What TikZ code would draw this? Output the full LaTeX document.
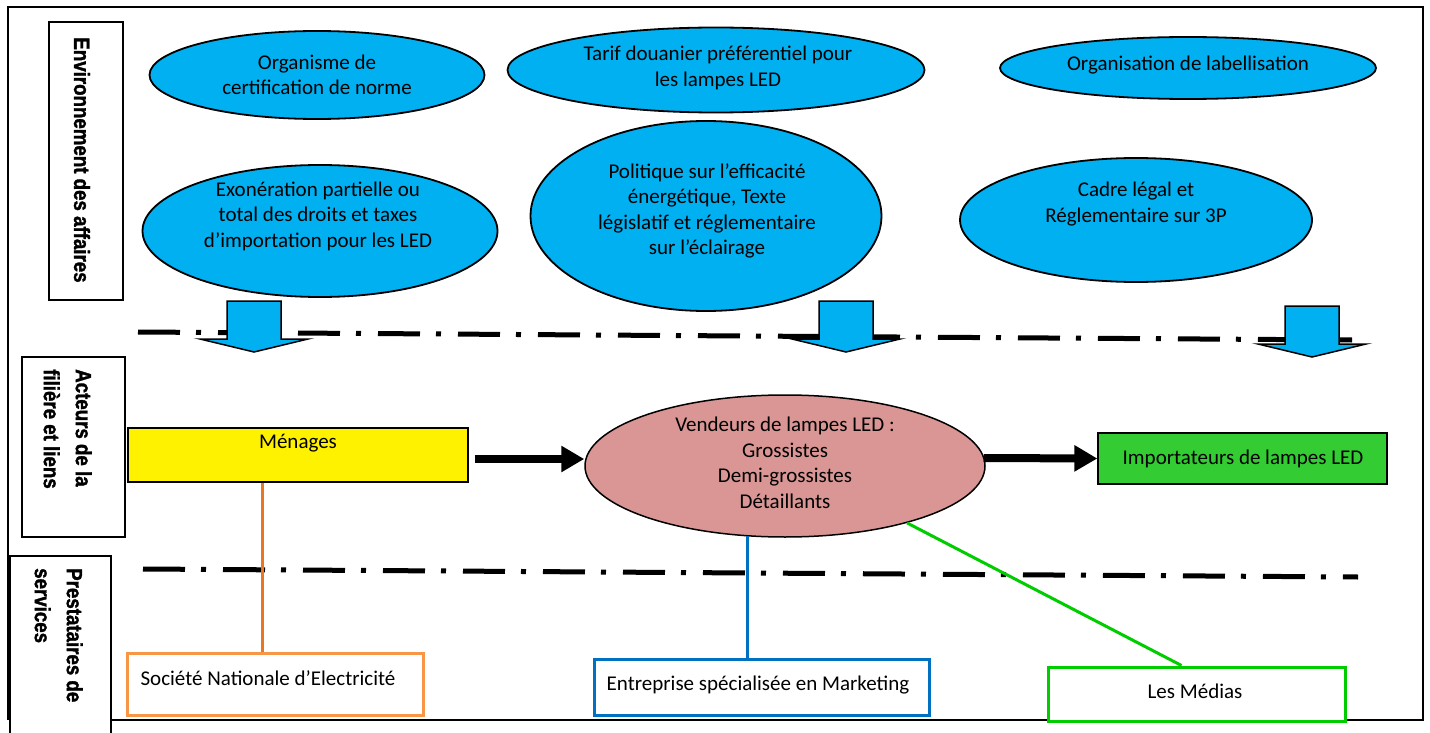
\documentclass[tikz,border=0pt]{standalone}
\usepackage{fontspec}
\setmainfont{Carlito}
\newfontfamily\condfont{Liberation Sans Bold}[FakeStretch=0.85, FakeBold=1.5]
\usetikzlibrary{calc,shapes.geometric,arrows.meta}
\definecolor{sky}{HTML}{00B0F0}
\definecolor{rose}{HTML}{D99694}
\definecolor{lime}{HTML}{33CC33}
\definecolor{orangeline}{HTML}{EB7620}
\definecolor{orangebox}{HTML}{F79646}
\definecolor{mblue}{HTML}{0070C0}
\definecolor{bgreen}{HTML}{00CC00}
\tikzset{
  blockdown/.pic={\draw[blockarrow] (-27,-51) -- (27,-51) -- (27,-13) -- (54,-13) -- (0,0) -- (-54,-13) -- (-27,-13) -- cycle;}
}
\begin{document}
\begin{tikzpicture}[x=1pt,y=-1pt,
  txt/.style={font=\fontsize{21}{25.5}\selectfont, align=center, inner sep=0pt, text=black},
  bubble/.style={ellipse, draw=black, line width=1.8pt, fill=sky, inner sep=0pt},
  sidebox/.style={draw=black, line width=1.5pt, fill=white, inner sep=0pt},
  sidetext/.style={font=\condfont\fontsize{22}{32}\selectfont, rotate=-90, inner sep=0pt, align=left},
  actorbox/.style={draw=black, line width=1.3pt, inner sep=0pt},
  bigarrow/.style={line width=8pt, -{Triangle[length=23pt,width=25pt]}},
  dashdot/.style={line width=5pt, dash pattern=on 42pt off 16pt on 5pt off 17pt},
  blockarrow/.style={draw=black, line width=1.5pt, fill=sky, line join=miter},
  servicebox/.style={line width=3pt, fill=white, inner sep=0pt},
  link/.style={line width=3pt},
]
\useasboundingbox (0,0) rectangle (1430,733);

% outer frame
\draw[line width=2pt] (8,720) -- (8,7) -- (1423,7) -- (1423,720) -- (111,720);

% section labels on the left
\node[sidebox, minimum width=74, minimum height=278] (envbox) at (86,161) {};
\node[sidetext] (envtext) at (82,160) {Environnement des affaires};
\node[sidebox, minimum width=103, minimum height=180] (actbox) at (73.5,447) {};
\node[sidetext, anchor=north west] (acttext) at (92,369) {Acteurs de la\\filière et liens};
\node[sidebox, minimum width=101, minimum height=190] (presbox) at (60.5,651) {};
\node[sidetext, anchor=north west] (prestext) at (83,568) {Prestataires de\\services};

% business environment
\node[bubble, minimum width=335, minimum height=88] (certif) at (317,75) {};
\node[txt] (certifT) at (317,75) {Organisme de\\certification de norme};
\node[bubble, minimum width=417, minimum height=85] (tarif) at (716,70) {};
\node[txt] (tarifT) at (718,68) {Tarif douanier préférentiel pour\\les lampes LED};
\node[bubble, minimum width=376, minimum height=62] (labl) at (1188,68) {};
\node[txt] (lablT) at (1188,65) {Organisation de labellisation};
\node[bubble, minimum width=355, minimum height=132] (exon) at (320,231) {};
\node[txt] (exonT) at (318,216) {Exonération partielle ou\\total des droits et taxes\\d’importation pour les LED};
\node[bubble, minimum width=351, minimum height=190] (polit) at (706,216) {};
\node[txt] (politT) at (707,211) {Politique sur l’efficacité\\énergétique, Texte\\législatif et réglementaire\\sur l’éclairage};
\node[bubble, minimum width=352, minimum height=124] (cadre) at (1136,220) {};
\node[txt] (cadreT) at (1136,204) {Cadre légal et\\Réglementaire sur 3P};

% separators
\coordinate (sepAa) at (138,332);
\coordinate (sepAb) at (1352,340);
\coordinate (sepBa) at (143,569);
\coordinate (sepBb) at (1358,577);
\draw[dashdot] (sepAa) -- (sepAb);
\draw[dashdot] (sepBa) -- (sepBb);

% influence arrows
\pic (downA) at (254,352) {blockdown};
\pic (downB) at (846,352) {blockdown};
\pic (downC) at (1312,357) {blockdown};

% value chain actors
\node[actorbox, fill=yellow, minimum width=340, minimum height=54] (men) at (298,455) {};
\node[txt] (menT) at (298,443) {Ménages};
\node[ellipse, draw=black, line width=1.5pt, fill=rose, inner sep=0pt, minimum width=400, minimum height=142] (vend) at (785,466) {};
\node[txt] (vendT) at (785,463) {Vendeurs de lampes LED :\\Grossistes\\Demi-grossistes\\Détaillants};
\node[actorbox, fill=lime, minimum width=289, minimum height=51] (imp) at (1242.5,458.5) {};
\node[txt] (impT) at (1243,459) {Importateurs de lampes LED};

\draw[bigarrow] ($(men.east)+(6,4)$) -- ($(vend.west)+(0,-7)$);
\draw[bigarrow] ($(vend.east)+(-2,-8)$) -- (imp.west);

% service providers
\node[servicebox, draw=orangebox, minimum width=296, minimum height=62] (sne) at (275,684) {};
\node[txt] (sneT) at (268,678) {Société Nationale d’Electricité};
\node[servicebox, draw=mblue, minimum width=335, minimum height=56] (mkt) at (761.5,687) {};
\node[txt] (mktT) at (758,685) {Entreprise spécialisée en Marketing};
\node[servicebox, draw=bgreen, minimum width=297, minimum height=54] (media) at (1196.5,694) {};
\node[txt] (mediaT) at (1195,691) {Les Médias};

\coordinate (sneTop) at ($(sne.north west)+(137,0)$);
\draw[link, orangeline] (men.south -| sneTop) -- (sneTop);
\draw[link, mblue] (vend.-118) -- (vend.-118 |- mkt.north);
\draw[link, bgreen] (vend.-25) -- ($(media.north)+(-15,0)$);
\end{tikzpicture}
\end{document}
